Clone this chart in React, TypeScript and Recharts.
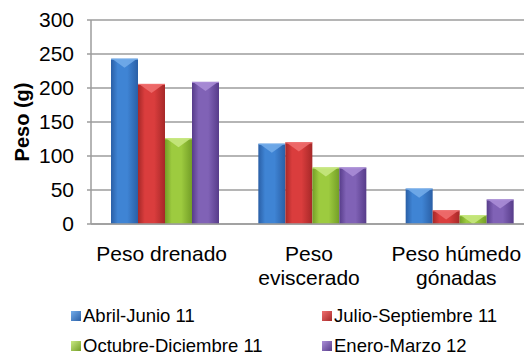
import React from 'react';
import { BarChart, Bar, XAxis, YAxis, CartesianGrid } from 'recharts';

// categories and series values
const categories = ['Peso drenado', 'Peso eviscerado', 'Peso húmedo gónadas'];
const categoryLines = [['Peso drenado'], ['Peso', 'eviscerado'], ['Peso húmedo', 'gónadas']];
const abrilJunio = [243, 118, 52];
const julioSeptiembre = [206, 120, 20];
const octubreDiciembre = [126, 83, 13];
const eneroMarzo = [209, 83, 36];
const yTicks = [0, 50, 100, 150, 200, 250, 300];

const seriesNames = ['Abril-Junio 11', 'Julio-Septiembre 11', 'Octubre-Diciembre 11', 'Enero-Marzo 12'];
const seriesKeys = ['s0', 's1', 's2', 's3'];
const seriesValues = [abrilJunio, julioSeptiembre, octubreDiciembre, eneroMarzo];

const palette = [
    { dark: '#2A5FA6', base: '#3F84D4', light: '#74ADEA' },
    { dark: '#A62828', base: '#DA3D3D', light: '#F07070' },
    { dark: '#739E27', base: '#9DCB3F', light: '#C9E983' },
    { dark: '#573C8A', base: '#8062B6', light: '#AC8FD8' },
];

const data = categories.map((name, i) => {
    const row: any = { name };
    seriesKeys.forEach((k, s) => (row[k] = seriesValues[s][i]));
    return row;
});

const FONT = '"Liberation Sans", Arial, sans-serif';

function bevelShape(s: number) {
    return (props: any) => {
        const { x, y, width, height, index } = props;
        if (!height || height <= 0) return null;
        const c = palette[s];
        const id = `g-${s}-${index}`;
        const bevel = Math.min(9, height);
        return (
            <g>
                <defs>
                    <linearGradient id={id} x1="0" y1="0" x2="1" y2="0">
                        <stop offset="0%" stopColor={c.dark} />
                        <stop offset="25%" stopColor={c.base} />
                        <stop offset="60%" stopColor={c.base} />
                        <stop offset="100%" stopColor={c.dark} />
                    </linearGradient>
                </defs>
                <rect x={x} y={y} width={width} height={height} fill={`url(#${id})`} />
                <polygon
                    points={`${x + 1},${y} ${x + width - 1},${y} ${x + width / 2},${y + bevel}`}
                    fill={c.light}
                    opacity={0.85}
                />
                <line x1={x} x2={x + width} y1={y + 0.5} y2={y + 0.5} stroke={c.light} strokeWidth={1} />
            </g>
        );
    };
}

const XTick = (props: any) => {
    const { x, y, payload } = props;
    const idx = categories.indexOf(payload.value);
    const lines = categoryLines[idx] || [payload.value];
    return (
        <text x={x - 3} y={y} textAnchor="middle" fontFamily={FONT} fontSize={21} fill="#000">
            {lines.map((l, i) => (
                <tspan key={i} x={x - 3} dy={i === 0 ? 29 : 24}>
                    {l}
                </tspan>
            ))}
        </text>
    );
};

const YLabel = (props: any) => {
    const { viewBox } = props;
    const cx = viewBox.x + 22;
    const cy = viewBox.y + viewBox.height / 2;
    return (
        <text
            x={cx}
            y={cy}
            transform={`rotate(-90, ${cx}, ${cy})`}
            textAnchor="middle"
            dominantBaseline="central"
            fontFamily={FONT}
            fontSize={20}
            fontWeight="bold"
            fill="#000"
        >
            Peso (g)
        </text>
    );
};

export default function App() {
    return (
        <div style={{ position: 'fixed', left: 0, top: 0, width: 524, height: 355, overflow: 'hidden', background: '#fff', fontFamily: FONT }}>
            <BarChart
                width={540}
                height={355}
                data={data}
                margin={{ top: 20, right: 7, left: 0, bottom: 71 }}
                barCategoryGap={20}
                barGap={0}
            >
                <CartesianGrid vertical={false} stroke="#9c9c9c" strokeWidth={1.5} />
                <XAxis
                    dataKey="name"
                    height={60}
                    axisLine={{ stroke: '#9c9c9c', strokeWidth: 1.5 }}
                    tickLine={false}
                    tick={<XTick />}
                    interval={0}
                />
                <YAxis
                    width={91}
                    domain={[0, 300]}
                    ticks={yTicks}
                    axisLine={{ stroke: '#9c9c9c', strokeWidth: 1.5 }}
                    tickLine={{ stroke: '#9c9c9c', strokeWidth: 1.5 }}
                    tickSize={4}
                    tickMargin={13}
                    tick={{ fontSize: 21, fill: '#000', fontFamily: FONT }}
                    label={<YLabel />}
                />
                {seriesKeys.map((k, s) => (
                    <Bar key={k} dataKey={k} name={seriesNames[s]} fill={palette[s].base} shape={bevelShape(s)} isAnimationActive={false} />
                ))}
            </BarChart>
            <div
                style={{
                    position: 'absolute',
                    left: 71,
                    top: 307,
                    display: 'grid',
                    gridTemplateColumns: '251px 200px',
                    rowGap: 12,
                    fontSize: 18.5,
                    lineHeight: '18px',
                    color: '#000',
                }}
            >
                {seriesNames.map((n, s) => (
                    <div key={n} style={{ display: 'flex', alignItems: 'center', height: 18, whiteSpace: 'nowrap' }}>
                        <span
                            style={{
                                display: 'inline-block',
                                width: 10,
                                height: 10,
                                marginRight: 2,
                                background: `linear-gradient(135deg, ${palette[s].light}, ${palette[s].dark})`,
                            }}
                        />
                        {n}
                    </div>
                ))}
            </div>
        </div>
    );
}
